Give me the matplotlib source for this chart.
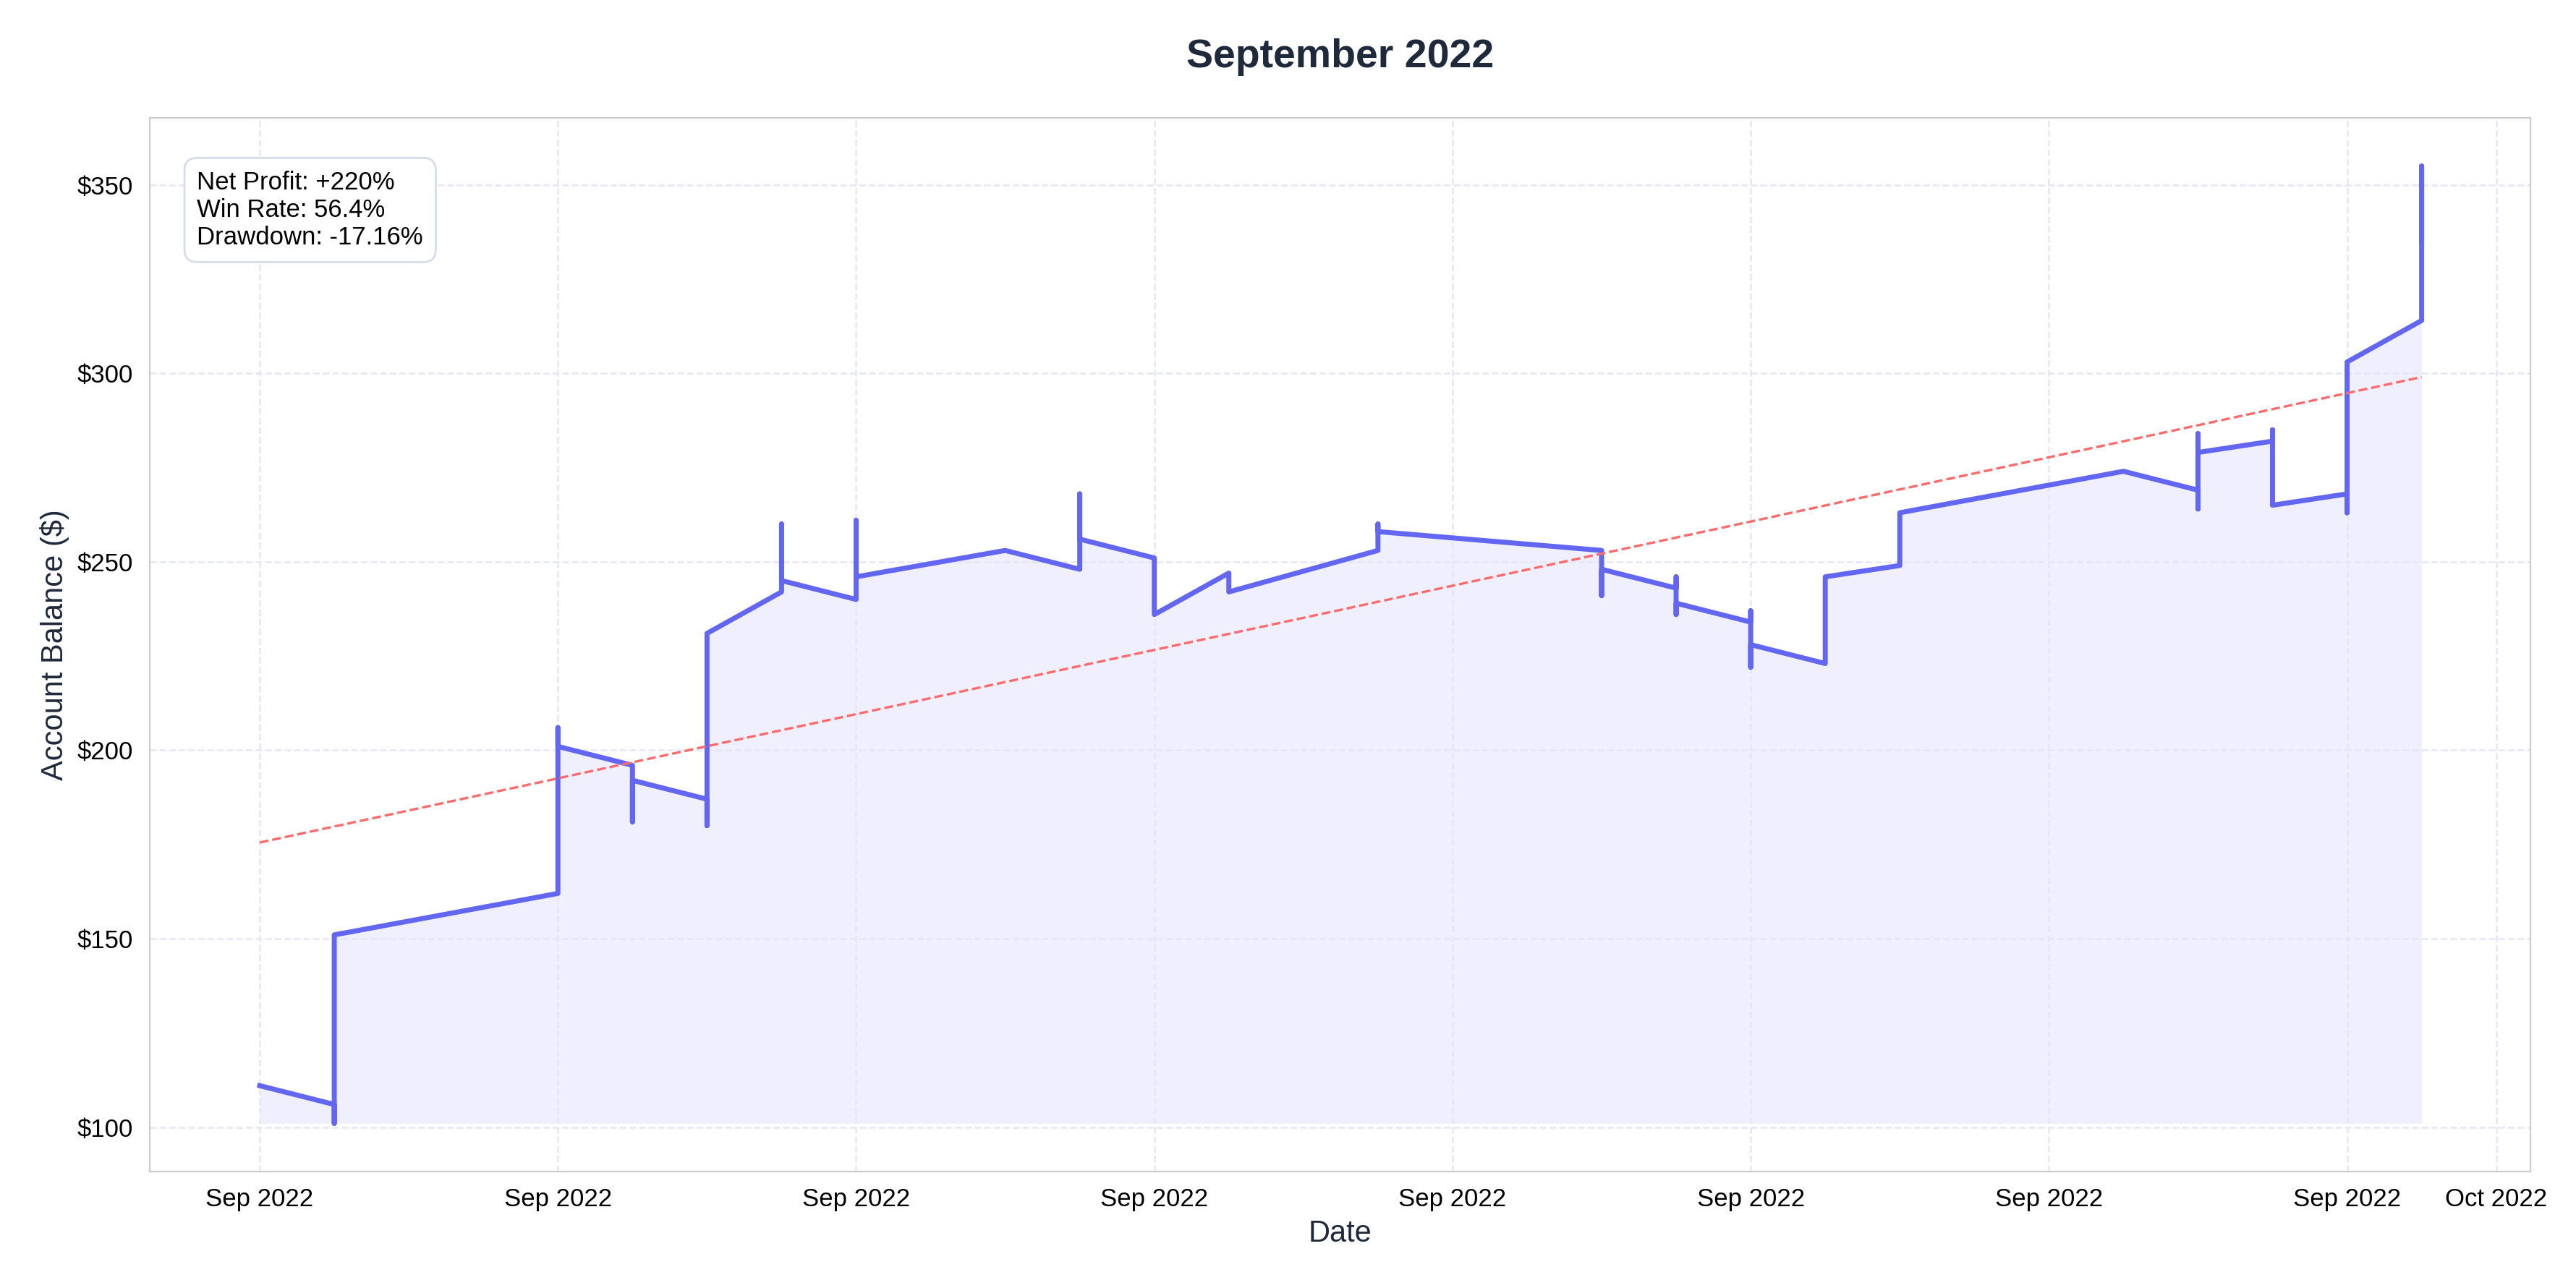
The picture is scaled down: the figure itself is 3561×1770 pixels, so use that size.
import matplotlib
matplotlib.use("Agg")
import matplotlib.pyplot as plt
import matplotlib.dates as mdates
import numpy as np
import pandas as pd

days = [1, 2, 2, 2, 2, 5, 5, 5, 6, 6, 6, 7, 7, 7, 8, 8, 8, 9, 9, 9, 11, 12, 12, 12,
        13, 13, 14, 14, 16, 16, 16, 19, 19, 19, 20, 20, 20, 20, 21, 21, 21, 21, 22, 22,
        23, 23, 26, 27, 27, 27, 27, 28, 28, 28, 29, 29, 29, 30, 30, 30]
balance = [111, 106, 101, 132, 151, 162, 206, 201, 196, 181, 192, 187, 180, 231, 242, 260, 245,
           240, 261, 246, 253, 248, 268, 256, 251, 236, 247, 242, 253, 260, 258, 253, 241, 248,
           243, 246, 236, 239, 234, 237, 222, 228, 223, 246, 249, 263, 274, 269, 264, 284, 279,
           282, 285, 265, 268, 263, 303, 314, 355, 335]
trend_days = [1, 30]
trend_values = [175.5, 299]
stats_text = "Net Profit: +220%\nWin Rate: 56.4%\nDrawdown: -17.16%"

dates = pd.to_datetime([f"2022-09-{d:02d}" for d in days])
tdates = pd.to_datetime([f"2022-09-{d:02d}" for d in trend_days])

plt.rcParams['font.family'] = ['Arial', 'Liberation Sans', 'DejaVu Sans']
fig, ax = plt.subplots(figsize=(17.81, 8.85), dpi=200)
ax.set_facecolor('white')
ax.fill_between(dates, min(balance), balance, color='#6366f1', alpha=0.1, linewidth=0)
ax.plot(dates, balance, color='#6366f1', linewidth=2.5)
ax.plot(tdates, trend_values, color='#ff6b6b', linestyle='--', linewidth=1.2)

ax.set_ylim(88.3, 367.8)
ax.set_xlim(pd.Timestamp('2022-08-30 12:30'), pd.Timestamp('2022-10-01 11:00'))
ax.xaxis.set_major_locator(mdates.DayLocator(bymonthday=[1, 5, 9, 13, 17, 21, 25, 29]))
ax.xaxis.set_major_formatter(mdates.DateFormatter('%b %Y'))
ax.yaxis.set_major_formatter(matplotlib.ticker.FuncFormatter(lambda v, p: f"${v:.0f}"))
ax.set_yticks([100, 150, 200, 250, 300, 350])
ax.grid(True, linestyle='--', color='#e5e7f5', linewidth=0.9)
ax.tick_params(labelsize=12.5, length=0, pad=8)
for s in ax.spines.values():
    s.set_color('#cccccc')
ax.set_xlabel('Date', fontsize=15, color='#1e293b')
ax.set_ylabel('Account Balance ($)', fontsize=15, color='#1e293b')
ax.set_title('September 2022', fontsize=20, fontweight='bold', color='#1e293b', pad=25)
ax.text(0.02, 0.95, stats_text, transform=ax.transAxes, fontsize=12.5, va='top',
        bbox=dict(boxstyle='round,pad=0.5', facecolor='white', edgecolor='#d5dcef'))
fig.subplots_adjust(left=0.058, right=0.982, top=0.908, bottom=0.085)
fig.savefig('out.png', dpi=200)
